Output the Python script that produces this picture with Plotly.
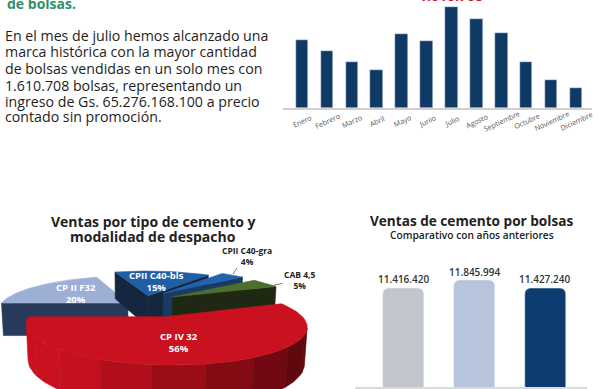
import numpy as np
import plotly.graph_objects as go

W, H = 600, 389

# ---------------- data ----------------
months = ["Enero", "Febrero", "Marzo", "Abril", "Mayo", "Junio", "Julio",
          "Agosto", "Septiembre", "Octubre", "Noviembre", "Diciembre"]
monthly_bags = [1081000, 906000, 731000, 609000, 1172000, 1070000, 1610708,
                1415000, 1188000, 731000, 445000, 313000]
record_label = "1.610.708"

cement_types = ["CP II F32", "CPII C40-bls", "CPII C40-gra", "CAB 4,5", "CP IV 32"]
cement_share = [20, 15, 4, 5, 56]

years = ["Año 1", "Año 2", "Año 3"]
annual_bags = [11416420, 11845994, 11427240]
annual_labels = ["11.416.420", "11.845.994", "11.427.240"]

heading_tail = "de bolsas."
intro_lines = [
    "En el mes de julio hemos alcanzado una",
    "marca histórica con la mayor cantidad",
    "de bolsas vendidas en un solo mes con",
    "1.610.708 bolsas, representando un",
    "ingreso de Gs. 65.276.168.100 a precio",
    "contado sin promoción.",
]

# ---------------- style ----------------
FONT = "Open Sans"
NAVY = "#0f3a66"
slice_top = ["#9eafd5", "#1f5fa6", "#2263ab", "#4d6f2b", "#c9111f"]
slice_cut = ["#273a5c", "#16263f", "#183a63", "#1e2812", "#7a0c12"]
slice_explode = [(-0.08, 0.06), (0.084, 0.294), (0.214, 0.379), (0.285, 0.258), (0.20, -0.33)]
label_inside = [True, True, False, False, True]
label_place = [(0.0, 0.55), (0.0, 0.55), None, None, (5.0, 0.6)]


def px_y(p):
    return 1 - p / H


def px_x(p):
    return p / W


fig = go.Figure()

# ---------------- monthly bars ----------------
fig.add_trace(go.Bar(x=months, y=monthly_bags, marker_color=NAVY, width=0.5,
                     xaxis="x", yaxis="y", showlegend=False, hoverinfo="skip"))

# ---------------- annual bars ----------------
fig.add_trace(go.Bar(x=years, y=annual_bags,
                     marker=dict(color=["#c3c5cc", "#b7c5dc", "#0d3d70"], cornerradius=6),
                     width=0.575, xaxis="x2", yaxis="y2", showlegend=False,
                     hoverinfo="skip"))

# ---------------- pseudo-3D exploded pie ----------------
ALPHA = np.radians(15.0)
DIST = 4.8
FOC = 614.0
THICK = 0.27
PIE_CX, PIE_CY = 138.0, 305.0


def project(X, Y, Z):
    X = np.asarray(X, float); Y = np.asarray(Y, float); Z = np.asarray(Z, float)
    depth = DIST + Y * np.cos(ALPHA) - Z * np.sin(ALPHA)
    sx = PIE_CX + FOC * X / depth
    sy = PIE_CY - FOC * (Y * np.sin(ALPHA) + Z * np.cos(ALPHA)) / depth
    return sx, sy


def shade(hexcol, f):
    h = hexcol.lstrip("#")
    r, g, b = (int(h[i:i + 2], 16) for i in (0, 2, 4))
    return "rgb(%d,%d,%d)" % tuple(max(0, min(255, int(c * f))) for c in (r, g, b))


cam = np.array([0.0, -DIST * np.cos(ALPHA), DIST * np.sin(ALPHA)])


def add_poly(xs, ys, color):
    xs = list(xs) + [xs[0]]
    ys = list(ys) + [ys[0]]
    fig.add_trace(go.Scatter(x=xs, y=ys, mode="lines", fill="toself",
                             fillcolor=color, line=dict(color=color, width=0.6),
                             xaxis="x3", yaxis="y3", showlegend=False,
                             hoverinfo="skip"))


start = 270.0
geo = []
for i, share in enumerate(cement_share):
    a0 = start
    a1 = start + share * 3.6
    start = a1
    mid = np.radians((a0 + a1) / 2)
    ox, oy = slice_explode[i]
    geo.append((a0, a1, mid, ox, oy))

    # radial cut faces
    for edge, sign in ((a0, -1), (a1, 1)):
        t = np.radians(edge)
        n = np.array([sign * np.cos(t), -sign * np.sin(t), 0.0])
        p = np.array([ox, oy, 0.0])
        if np.dot(cam - p, n) > 0:
            X = [ox, ox + np.sin(t), ox + np.sin(t), ox]
            Y = [oy, oy + np.cos(t), oy + np.cos(t), oy]
            Z = [0, 0, -THICK, -THICK]
            sx, sy = project(X, Y, Z)
            add_poly(sx, sy, slice_cut[i])

    # outer cylindrical side in shaded bands
    ths = np.radians(np.linspace(a0, a1, int(abs(a1 - a0) * 2) + 2))
    vis = []
    for t in ths:
        n = np.array([np.sin(t), np.cos(t), 0.0])
        p = np.array([ox + np.sin(t), oy + np.cos(t), 0.0])
        vis.append(np.dot(cam - p, n) > 0)
    vis = np.array(vis)
    if vis.any():
        tv = ths[vis]
        band = np.radians(18.0)
        k1 = tv[-1]
        while k1 > tv[0] + 1e-9:
            k0 = max(k1 - band, tv[0])
            tt = np.linspace(k0, k1, 12)
            X = np.concatenate([ox + np.sin(tt), ox + np.sin(tt[::-1])])
            Y = np.concatenate([oy + np.cos(tt), oy + np.cos(tt[::-1])])
            Z = np.concatenate([np.zeros(12), -THICK * np.ones(12)])
            sx, sy = project(X, Y, Z)
            tm = (k0 + k1) / 2
            f = min(1.0, 0.78 - 0.36 * np.sin(tm))
            add_poly(sx, sy, shade(slice_top[i], f))
            k1 = k0

    # top face
    tt = np.radians(np.linspace(a0, a1, 80))
    X = np.concatenate([[ox], ox + np.sin(tt)])
    Y = np.concatenate([[oy], oy + np.cos(tt)])
    sx, sy = project(X, Y, np.zeros(len(X)))
    add_poly(sx, sy, slice_top[i])

annotations = []
for i, (name, share) in enumerate(zip(cement_types, cement_share)):
    a0, a1, mid, ox, oy = geo[i]
    if label_inside[i]:
        dang, r = label_place[i]
        t = mid + np.radians(dang)
        lx, ly = project(ox + r * np.sin(t), oy + r * np.cos(t), 0.0)
        annotations.append(dict(x=float(lx), y=float(ly), xref="x3", yref="y3",
                                text="%s<br>%d%%" % (name, share), showarrow=False,
                                xanchor="center", yanchor="middle",
                                font=dict(family=FONT, size=9.5, color="white", weight=700)))
    else:
        if i == 2:
            ex, ey = project(ox + np.sin(mid), oy + np.cos(mid), 0.0)
            ex, ey = float(ex), float(ey)
            line_x, line_y = [ex + 1, ex + 5], [ey - 1, ey - 7]
            tx, ty = ex + 15, ey - 6
            anc = dict(xanchor="center", yanchor="bottom")
        else:
            t = mid + np.radians(6)
            ex, ey = project(ox + np.sin(t), oy + np.cos(t), 0.0)
            ex, ey = float(ex), float(ey)
            line_x, line_y = [ex + 1, ex + 10], [ey, ey - 2]
            tx, ty = ex + 9, ey - 5
            anc = dict(xanchor="left", yanchor="middle")
        fig.add_trace(go.Scatter(x=line_x, y=line_y, mode="lines",
                                 line=dict(color="#555555", width=0.8),
                                 xaxis="x3", yaxis="y3", showlegend=False, hoverinfo="skip"))
        annotations.append(dict(x=tx, y=ty, xref="x3", yref="y3",
                                text="%s<br>%d%%" % (name, share), showarrow=False,
                                font=dict(family=FONT, size=8.5, color="#222222", weight=700),
                                **anc))

# annual value labels
for yr, v, lab in zip(years, annual_bags, annual_labels):
    annotations.append(dict(x=yr, y=v, xref="x2", yref="y2", text=lab, showarrow=False,
                            xanchor="center", yanchor="bottom", yshift=0,
                            font=dict(family=FONT, size=10, color="#333333", weight=600)))

# month labels, rotated and centred under each bar
for m in months:
    annotations.append(dict(x=m, y=px_y(120.5), xref="x", yref="paper", text=m,
                            showarrow=False, textangle=-25, xanchor="center",
                            yanchor="middle",
                            font=dict(family=FONT, size=7.2, color="#555555")))

# ---------------- texts ----------------
annotations.append(dict(x=px_x(5), y=px_y(3.2), xref="paper", yref="paper",
                        text=heading_tail, showarrow=False, xanchor="left", yanchor="middle",
                        font=dict(family=FONT, size=14, color="#2f8f6c", weight=700)))
line_centers = [35, 52, 68.5, 85, 101, 117]
for txt, yc in zip(intro_lines, line_centers):
    annotations.append(dict(x=px_x(3), y=px_y(yc), xref="paper", yref="paper",
                            text=txt, showarrow=False, xanchor="left", yanchor="middle",
                            font=dict(family=FONT, size=14.2, color="#1e1e1e")))

annotations.append(dict(x="Julio", y=monthly_bags[months.index("Julio")], xref="x", yref="y",
                        text=record_label, showarrow=False, xanchor="center",
                        yanchor="bottom", yshift=-0.5,
                        font=dict(family=FONT, size=14, color="#c8102e", weight=700)))

annotations.append(dict(x=px_x(153), y=px_y(221.7), xref="paper", yref="paper",
                        text="Ventas por tipo de cemento y", showarrow=False,
                        xanchor="center", yanchor="middle",
                        font=dict(family=FONT, size=14, color="#222222", weight=700)))
annotations.append(dict(x=px_x(153), y=px_y(236.7), xref="paper", yref="paper",
                        text="modalidad de despacho", showarrow=False,
                        xanchor="center", yanchor="middle",
                        font=dict(family=FONT, size=14, color="#222222", weight=700)))
annotations.append(dict(x=px_x(471), y=px_y(220), xref="paper", yref="paper",
                        text="Ventas de cemento por bolsas", showarrow=False,
                        xanchor="center", yanchor="middle",
                        font=dict(family=FONT, size=13.6, color="#222222", weight=700)))
annotations.append(dict(x=px_x(472), y=px_y(234.5), xref="paper", yref="paper",
                        text="Comparativo con años anteriores", showarrow=False,
                        xanchor="center", yanchor="middle",
                        font=dict(family=FONT, size=10.2, color="#222222", weight=600)))

fig.update_layout(
    width=W, height=H,
    margin=dict(l=0, r=0, t=0, b=0),
    paper_bgcolor="white", plot_bgcolor="rgba(0,0,0,0)",
    showlegend=False,
    xaxis=dict(domain=[px_x(283), px_x(592)], range=[-0.76, 11.64], anchor="y",
               showline=True, linecolor="#d0d0d0", linewidth=1.5, ticks="",
               showticklabels=False, showgrid=False, zeroline=False, fixedrange=True),
    yaxis=dict(domain=[px_y(108), 1], range=[0, 1717000], visible=False, anchor="x",
               fixedrange=True),
    xaxis2=dict(domain=[px_x(355), px_x(587)], range=[-0.69, 2.59], anchor="y2",
                showline=True, linecolor="#dadada", linewidth=2, showticklabels=False,
                ticks="", showgrid=False, zeroline=False),
    yaxis2=dict(domain=[px_y(387), px_y(272.3)], range=[5837600, 12320800], visible=False,
                anchor="x2"),
    xaxis3=dict(domain=[0, 0.55], range=[0, 330], visible=False, anchor="y3"),
    yaxis3=dict(domain=[0, 0.45], range=[389, 389 * 0.55], visible=False, anchor="x3"),
    annotations=annotations,
    bargap=0,
)

fig.write_html("out.html", config={"displayModeBar": False},
               post_script="document.body.style.margin='0px';")
